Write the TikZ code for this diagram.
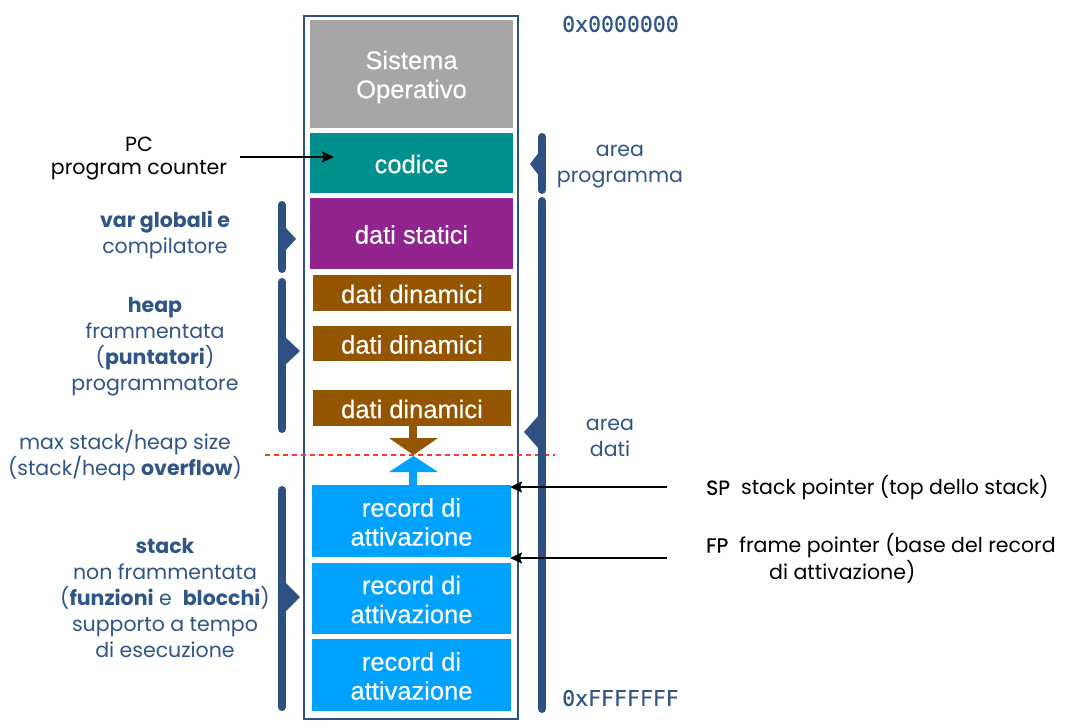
\documentclass[tikz,border=0pt]{standalone}
\usepackage{fontspec}
\setmainfont{Poppins}
\newfontfamily\afont{Liberation Sans}[FakeBold=0.3]
\newfontfamily\mfont{DejaVu Sans Mono}[FakeBold=0.4]
\newfontfamily\pmed{Poppins}[FakeBold=0.6]
\usetikzlibrary{arrows.meta}
\definecolor{dblue}{HTML}{2E5181}
\definecolor{tblue}{HTML}{2F5686}
\definecolor{osgray}{HTML}{A6A6A6}
\definecolor{teal2}{HTML}{00918E}
\definecolor{purp}{HTML}{922490}
\definecolor{brwn}{HTML}{955500}
\definecolor{recblue}{HTML}{00A2FF}
\definecolor{redd}{HTML}{FF3B1F}
\begin{document}
\begin{tikzpicture}[x=1pt,y=-1pt,
  membox/.style={inner sep=0pt, draw=none},
  boxtxt/.style={inner sep=0pt, text=white, align=center, yshift=-1pt,
    font=\afont\fontsize{25.5}{29}\selectfont},
  lbl/.style={inner sep=0pt, align=center, text=tblue,
    font=\fontsize{20.5}{26}\selectfont},
  blk/.style={inner sep=0pt, align=center, text=black,
    font=\fontsize{20.5}{23}\selectfont},
  addr/.style={inner sep=0pt, text=tblue, font=\mfont\fontsize{21.5}{26}\selectfont},
  brack/.style={draw=dblue, line width=8pt, line cap=round},
  notch/.style={fill=dblue, draw=none},
  ptr/.style={draw=black, line width=1.8pt, -{Stealth[length=12pt,width=11pt,inset=2pt]}}
]
\useasboundingbox (0,0) rectangle (1082,726);
\fill[white] (0,0) rectangle (1082,726);

% memory frame
\draw[dblue, line width=2pt, fill=white] (304,16) rectangle (518,719);

% memory boxes
\node[membox, fill=osgray, minimum width=203pt, minimum height=108pt,
  label={[boxtxt, yshift=-2pt]center:{Sistema\\Operativo}}] (so) at (411.5,74) {};
\node[membox, fill=teal2, minimum width=203pt, minimum height=60pt,
  label={[boxtxt]center:codice}] (codice) at (411.5,163) {};
\node[membox, fill=purp, minimum width=203pt, minimum height=71pt,
  label={[boxtxt]center:dati statici}] (statici) at (411.5,233.5) {};
\node[membox, fill=brwn, minimum width=198pt, minimum height=36pt,
  label={[boxtxt]center:dati dinamici}] (din1) at (412,293) {};
\node[membox, fill=brwn, minimum width=198pt, minimum height=35pt,
  label={[boxtxt]center:dati dinamici}] (din2) at (412,343.5) {};
\node[membox, fill=brwn, minimum width=198pt, minimum height=36pt,
  label={[boxtxt]center:dati dinamici}] (din3) at (412,408) {};
\node[membox, fill=recblue, minimum width=199pt, minimum height=72pt,
  label={[boxtxt]center:{record di\\attivazione}}] (rec1) at (411.5,521) {};
\node[membox, fill=recblue, minimum width=199pt, minimum height=71pt,
  label={[boxtxt]center:{record di\\attivazione}}] (rec2) at (411.5,598.5) {};
\node[membox, fill=recblue, minimum width=199pt, minimum height=72pt,
  label={[boxtxt]center:{record di\\attivazione}}] (rec3) at (411.5,675) {};

% growth arrows
\fill[brwn] (409,426) rectangle (417,439);
\fill[brwn] (389,438) -- (438,438) -- (413.5,455) -- cycle;
\fill[recblue] (389,472) -- (438,472) -- (413.5,456) -- cycle;
\fill[recblue] (409,471) rectangle (417,485);

% max size line
\draw[redd, line width=1.8pt, dash pattern=on 5pt off 4pt] (265,455) -- (555,455);

% left brackets
\draw[brack] (282,205) -- (282,269);
\fill[notch] (284,226) -- (296,239) -- (284,252) -- cycle;
\draw[brack] (282,282) -- (282,429);
\fill[notch] (284,336) -- (300,351) -- (284,366) -- cycle;
\draw[brack] (282,490) -- (282,707);
\fill[notch] (284,581) -- (300,597) -- (284,613) -- cycle;

% right brackets
\draw[brack] (542,137) -- (542,190);
\fill[notch] (540,151) -- (530,164) -- (540,177) -- cycle;
\draw[brack] (542,201) -- (542,709);
\fill[notch] (540,414) -- (524,432) -- (540,450) -- cycle;

% left labels
\node[blk] (pc) at (139,159) {PC\\program counter};
\node[lbl] (glob) at (165,234.5) {\textbf{var globali e}\\compilatore};
\node[lbl] (heap) at (155,347) {\textbf{heap}\\frammentata\\(\textbf{puntatori})\\programmatore};
\node[lbl] (maxs) at (125,456) {max stack/heap size\\(stack/heap \textbf{overflow})};
\node[lbl] (stack) at (165,597.5) {\textbf{stack}\\non frammentata\\(\textbf{funzioni} e\ \ \textbf{blocchi})\\supporto a tempo\\di esecuzione};

% right labels
\node[lbl] (aprog) at (620,167) {area\\programma};
\node[lbl] (adati) at (610,438) {area\\dati};
\node[addr, anchor=west] (a0) at (562,24) {0x0000000};
\node[addr, anchor=west] (aF) at (562,698) {0xFFFFFFF};

\node[blk, anchor=west, align=left] (sp) at (706,488) {{\pmed SP}\ \ stack pointer (top dello stack)};
\node[blk, anchor=west, align=left, font=\fontsize{20.5}{27}\selectfont] (fp) at (706,558.5) {{\pmed FP}\ \ frame pointer (base del record\\\hspace{63pt}di attivazione)};

% pointers
\coordinate (pcs) at (240,157);
\coordinate (pce) at (334,157);
\coordinate (sps) at (667,487);
\coordinate (spe) at (510,487);
\coordinate (fps) at (667,558);
\coordinate (fpe) at (510,558);
\draw[ptr] (pcs) -- (pce);
\draw[ptr] (sps) -- (spe);
\draw[ptr] (fps) -- (fpe);
\end{tikzpicture}
\end{document}
